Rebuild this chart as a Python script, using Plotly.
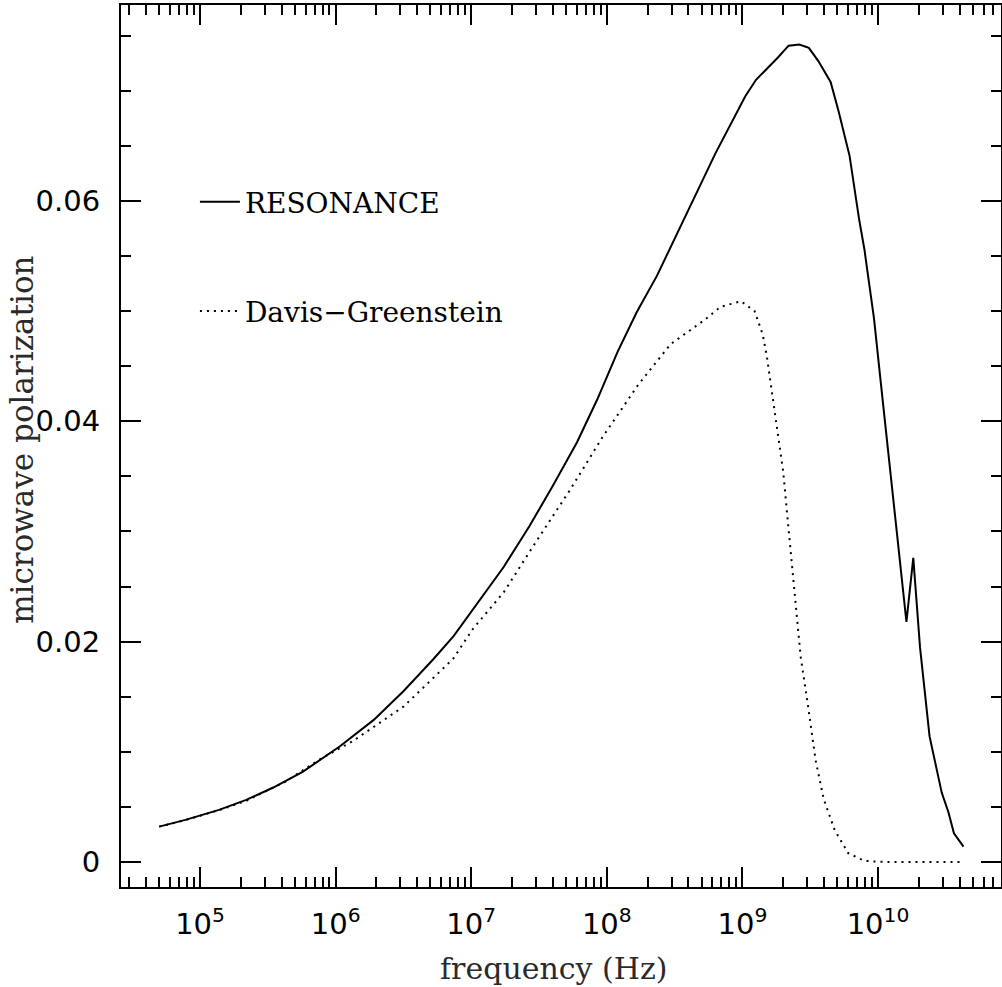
import plotly.graph_objects as go

# Resonance curve (solid)
freq_res = [5.0e4, 7.8e4, 1.38e5, 2.19e5, 3.47e5, 5.75e5, 1.07e6, 1.91e6, 3.16e6, 5.25e6,
            7.41e6, 1.15e7, 1.74e7, 2.69e7, 3.98e7, 6.03e7, 8.51e7, 1.20e8, 1.66e8, 2.34e8,
            2.95e8, 4.37e8, 6.31e8, 1.05e9, 1.26e9, 1.82e9, 2.19e9, 2.63e9, 3.09e9, 3.63e9,
            4.47e9, 5.13e9, 6.17e9, 7.24e9, 7.94e9, 8.51e9, 9.33e9, 1.10e10, 1.26e10, 1.45e10,
            1.62e10, 1.82e10, 2.04e10, 2.40e10, 2.95e10, 3.31e10, 3.63e10, 4.27e10]
pol_res = [0.00321, 0.00382, 0.00473, 0.00564, 0.00676, 0.00821, 0.01048, 0.0129, 0.0155, 0.0184,
           0.0205, 0.0238, 0.0268, 0.0305, 0.0341, 0.0381, 0.0420, 0.0463, 0.0499, 0.0532,
           0.0558, 0.0603, 0.0643, 0.0695, 0.0710, 0.0730, 0.0741, 0.0742, 0.0739, 0.0727,
           0.0708, 0.0681, 0.0641, 0.0584, 0.0556, 0.0529, 0.0494, 0.0411, 0.0344, 0.0275,
           0.0218, 0.0276, 0.0195, 0.0114, 0.0063, 0.0045, 0.0026, 0.0014]

# Davis-Greenstein curve (dotted)
freq_dg = [5.0e4, 7.8e4, 1.38e5, 2.19e5, 4.27e5, 7.59e5, 1.35e6, 3.16e6, 5.25e6, 7.41e6,
           1.02e7, 1.74e7, 3.09e7, 5.37e7, 9.33e7, 1.70e8, 2.95e8, 5.25e8, 6.92e8, 9.77e8,
           1.23e9, 1.41e9, 1.51e9, 1.66e9, 1.82e9, 2.00e9, 2.14e9, 2.32e9, 2.51e9, 2.69e9,
           3.02e9, 3.47e9, 3.98e9, 4.79e9, 6.03e9, 7.94e9, 1.12e10, 2.0e10, 4.27e10]
pol_dg = [0.00321, 0.00380, 0.00470, 0.00555, 0.0073, 0.0093, 0.0110, 0.0141, 0.0167, 0.0185,
          0.0211, 0.0245, 0.0293, 0.0338, 0.0386, 0.0433, 0.0470, 0.0492, 0.0504, 0.0509,
          0.0500, 0.0479, 0.0460, 0.0424, 0.0389, 0.0354, 0.0315, 0.0270, 0.0221, 0.0186,
          0.0145, 0.0092, 0.0057, 0.0029, 0.0008, 0.0001, 0.0, 0.0, 0.0]

series_names = ["RESONANCE", "Davis\u2212Greenstein"]

x_major = [1e5, 1e6, 1e7, 1e8, 1e9, 1e10]
x_major_text = ["10<sup>5</sup>", "10<sup>6</sup>", "10<sup>7</sup>", "10<sup>8</sup>",
                "10<sup>9</sup>", "10<sup>10</sup>"]
x_minor = [m * 10 ** e for e in range(4, 11) for m in range(2, 10)]
y_major = [0, 0.02, 0.04, 0.06]
y_major_text = ["0", "0.02", "0.04", "0.06"]
y_minor = [0.005, 0.01, 0.015, 0.025, 0.03, 0.035, 0.045, 0.05, 0.055, 0.065, 0.07, 0.075]

x_range = [4.417, 10.907]
y_range = [-0.00227, 0.07779]

fig = go.Figure()
fig.add_trace(go.Scatter(x=freq_res, y=pol_res, mode="lines", name=series_names[0],
                         legendgroup="a", line=dict(color="black", width=2)))
fig.add_trace(go.Scatter(x=freq_dg, y=pol_dg, mode="lines", name=series_names[1],
                         legendgroup="b", line=dict(color="black", width=2, dash="2px,5px")))
# invisible trace to anchor the mirrored axes
fig.add_trace(go.Scatter(x=[freq_res[0]], y=[pol_res[0]], xaxis="x2", yaxis="y2",
                         mode="markers", marker=dict(opacity=0), showlegend=False,
                         hoverinfo="skip"))

tickfont = dict(family="DejaVu Sans", size=29, color="black")
titlefont = dict(family="DejaVu Serif", size=30, color="#2a2a2a")
ytitlefont = dict(family="DejaVu Serif", size=31, color="#2a2a2a")
common = dict(showline=True, linecolor="black", linewidth=2, ticks="inside",
              tickcolor="black", tickwidth=2, ticklen=20, showgrid=False, zeroline=False)
minor_style = dict(ticks="inside", ticklen=10, tickwidth=2, tickcolor="black", showgrid=False)

fig.update_layout(
    width=1002, height=987,
    margin=dict(l=121, r=1, t=5, b=100),
    paper_bgcolor="white", plot_bgcolor="white",
    showlegend=True,
    legend=dict(x=0.084, y=0.805, xanchor="left", yanchor="top",
                font=dict(family="DejaVu Serif", size=28, color="black"),
                bgcolor="rgba(0,0,0,0)", tracegroupgap=70, itemwidth=40),
    xaxis=dict(type="log", range=x_range, tickvals=x_major, ticktext=x_major_text,
               tickfont=tickfont, ticklabelstandoff=10,
               minor=dict(tickvals=x_minor, **minor_style), **common),
    yaxis=dict(range=y_range, tickvals=y_major, ticktext=y_major_text, tickfont=tickfont,
               ticklabelstandoff=13,
               minor=dict(tickvals=y_minor, **minor_style), **common),
    xaxis2=dict(type="log", range=x_range, overlaying="x", side="top", anchor="y2",
                tickvals=x_major, showticklabels=False,
                minor=dict(tickvals=x_minor, **minor_style), **common),
    yaxis2=dict(range=y_range, overlaying="y", side="right", anchor="x2",
                tickvals=y_major, showticklabels=False,
                minor=dict(tickvals=y_minor, **minor_style), **common),
    annotations=[
        dict(text="frequency (Hz)", xref="paper", yref="paper", x=0.492, y=-0.092,
             xanchor="center", yanchor="middle", showarrow=False, font=titlefont),
        dict(text="microwave polarization", xref="paper", yref="paper", x=-0.1125, y=0.507,
             xanchor="center", yanchor="middle", textangle=-90, showarrow=False,
             font=ytitlefont),
    ],
)

fig.write_html("out.html", config={"displayModeBar": False},
               post_script="document.body.style.margin='0px';"
                           "document.body.style.overflow='hidden';")
